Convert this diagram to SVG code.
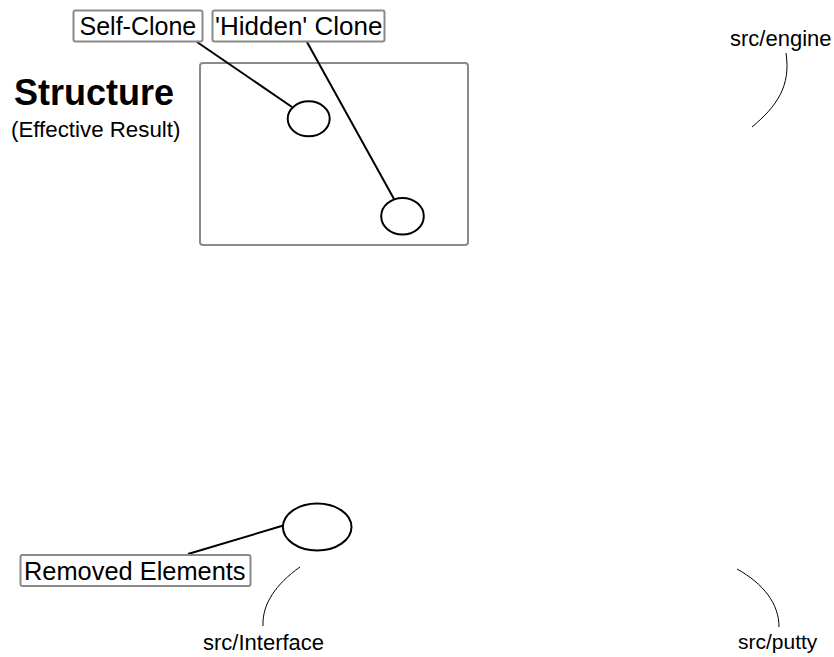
<svg xmlns="http://www.w3.org/2000/svg" width="834" height="657" viewBox="0 0 834 657">
  <style>
    .label { font-family: "Liberation Sans", Arial, sans-serif; fill: #000; }
    .box { fill: #fff; stroke: #8a8a8a; stroke-width: 2; }
    .node { fill: #fff; stroke: #000; stroke-width: 2; }
    .link { fill: none; stroke: #000; stroke-width: 2; }
    .arc { fill: none; stroke: #000; stroke-width: 1; }
  </style>
  <rect width="834" height="657" fill="#fff"/>

  <!-- title -->
  <g id="title">
    <text class="label" x="14" y="105" font-size="36" font-weight="bold">Structure</text>
    <text class="label" x="11" y="137" font-size="22.3">(Effective Result)</text>
  </g>

  <!-- frame around the structure -->
  <g id="frame">
    <rect class="box" x="200" y="63" width="268" height="182" rx="3"/>
  </g>

  <!-- connectors -->
  <g id="connectors">
    <line class="link" x1="197" y1="42" x2="292" y2="107"/>
    <line class="link" x1="307" y1="42" x2="394" y2="199"/>
    <line class="link" x1="188" y1="554" x2="285" y2="525"/>
    <path class="arc" d="M786,53 C791,86 777,106 752,127"/>
    <path class="arc" d="M300,567 C276,584 262,604 263,626"/>
    <path class="arc" d="M737,569 C764,584 779,604 779,627"/>
  </g>

  <g id="self-clone">
    <rect class="box" x="73.5" y="10.5" width="129" height="31" rx="2"/>
    <text class="label" x="79.5" y="35" font-size="25">Self-Clone</text>
  </g>

  <g id="hidden-clone">
    <rect class="box" x="212.5" y="10.5" width="172" height="31" rx="2"/>
    <text class="label" x="215" y="35" font-size="26">'Hidden' Clone</text>
  </g>

  <g id="self-clone-node">
    <ellipse class="node" cx="308.7" cy="118.8" rx="21" ry="17.5"/>
  </g>

  <g id="hidden-clone-node">
    <ellipse class="node" cx="402.5" cy="216.3" rx="21.3" ry="18.3"/>
  </g>

  <g id="removed-node">
    <ellipse class="node" cx="317.2" cy="527" rx="34.3" ry="23.5"/>
  </g>

  <g id="removed-elements">
    <rect class="box" x="20.5" y="555" width="230" height="31" rx="2"/>
    <text class="label" x="24" y="580" font-size="25.4">Removed Elements</text>
  </g>

  <g id="src-engine">
    <text class="label" x="730" y="45.5" font-size="22">src/engine</text>
  </g>

  <g id="src-interface">
    <text class="label" x="203" y="650" font-size="22">src/Interface</text>
  </g>

  <g id="src-putty">
    <text class="label" x="738" y="649" font-size="21">src/putty</text>
  </g>
</svg>
